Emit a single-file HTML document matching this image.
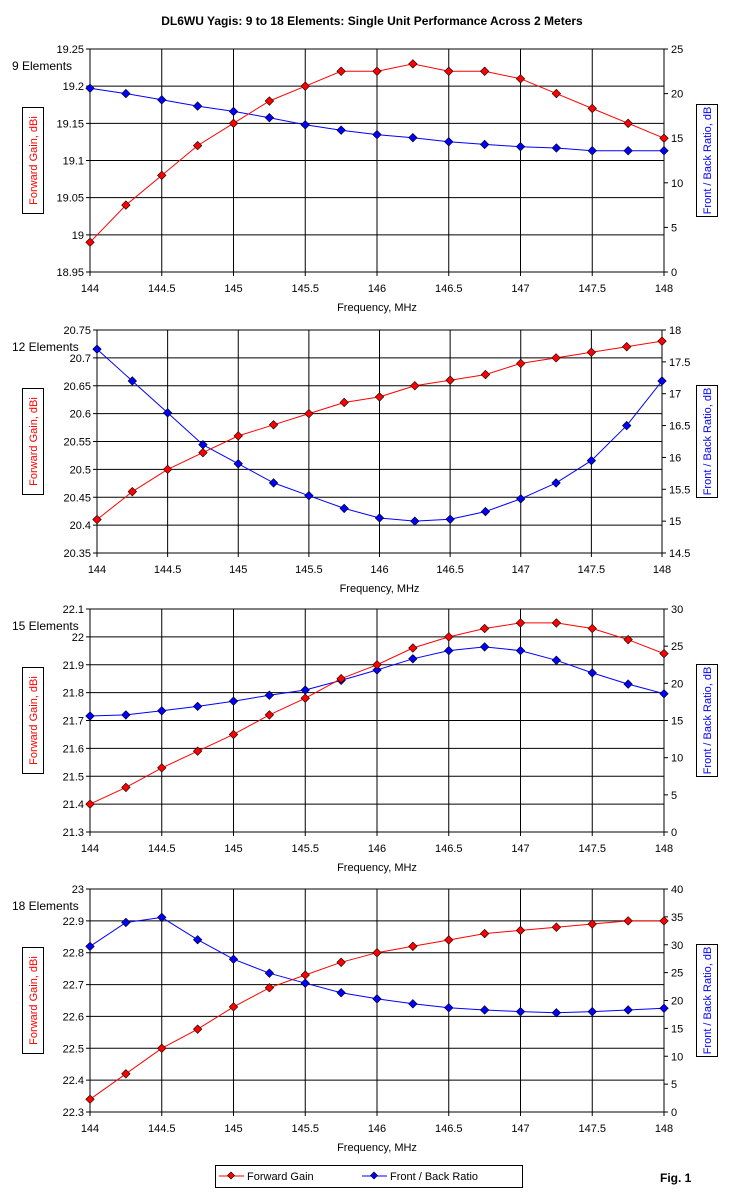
<!DOCTYPE html>
<html><head><meta charset="utf-8"><style>
html,body{margin:0;padding:0;background:#fff}
svg{display:block;font-family:"Liberation Sans",Arial,sans-serif}
</style></head><body>
<svg id="s" width="744" height="1200" xmlns="http://www.w3.org/2000/svg"></svg>
<script>
var P=[
{t:49,b:272,l:90,r:664,lmin:18.95,lmax:19.25,lstep:0.05,rmin:0,rmax:25,rstep:5,name:"9 Elements",
g:[18.99,19.04,19.08,19.12,19.15,19.18,19.20,19.22,19.22,19.23,19.22,19.22,19.21,19.19,19.17,19.15,19.13],
f:[20.6,20.0,19.3,18.6,18.0,17.3,16.5,15.9,15.4,15.06,14.6,14.3,14.05,13.9,13.6,13.6,13.6]},
{t:330,b:553,l:97,r:662,lmin:20.35,lmax:20.75,lstep:0.05,rmin:14.5,rmax:18,rstep:0.5,name:"12 Elements",
g:[20.41,20.46,20.50,20.53,20.56,20.58,20.60,20.62,20.63,20.65,20.66,20.67,20.69,20.70,20.71,20.72,20.73],
f:[17.7,17.2,16.7,16.2,15.9,15.6,15.4,15.2,15.05,15.0,15.03,15.15,15.35,15.6,15.95,16.5,17.2]},
{t:609,b:832,l:90,r:664,lmin:21.3,lmax:22.1,lstep:0.1,rmin:0,rmax:30,rstep:5,name:"15 Elements",
g:[21.40,21.46,21.53,21.59,21.65,21.72,21.78,21.85,21.90,21.96,22.00,22.03,22.05,22.05,22.03,21.99,21.94],
f:[15.6,15.75,16.3,16.9,17.6,18.4,19.1,20.4,21.8,23.3,24.4,24.9,24.4,23.1,21.4,19.9,18.6]},
{t:889,b:1112,l:90,r:664,lmin:22.3,lmax:23,lstep:0.1,rmin:0,rmax:40,rstep:5,name:"18 Elements",
g:[22.34,22.42,22.50,22.56,22.63,22.69,22.73,22.77,22.80,22.82,22.84,22.86,22.87,22.88,22.89,22.90,22.90],
f:[29.7,34,34.9,30.9,27.4,24.9,23.1,21.4,20.3,19.4,18.7,18.3,18,17.8,18,18.3,18.6]}];
var h='<text x="372" y="25" text-anchor="middle" font-size="12" font-weight="bold">DL6WU Yagis: 9 to 18 Elements: Single Unit Performance Across 2 Meters</text>';
function fmt(v){return String(parseFloat(v.toFixed(3)));}
P.forEach(function(p){
 var W=p.r-p.l,H=p.b-p.t,n=Math.round((p.lmax-p.lmin)/p.lstep),m=Math.round((p.rmax-p.rmin)/p.rstep);
 for(var i=0;i<=n;i++){var y=p.b-H*i/n;
  h+='<line x1="'+(p.l-4)+'" x2="'+p.r+'" y1="'+y+'" y2="'+y+'" stroke="#000"/>';
  h+='<text x="'+(p.l-6)+'" y="'+(y+4)+'" text-anchor="end" font-size="11">'+fmt(p.lmin+p.lstep*i)+'</text>';}
 for(i=0;i<=m;i++){var y=p.b-H*i/m;
  h+='<line x1="'+p.r+'" x2="'+(p.r+4)+'" y1="'+y+'" y2="'+y+'" stroke="#000"/>';
  h+='<text x="'+(p.r+7)+'" y="'+(y+4)+'" font-size="11">'+fmt(p.rmin+p.rstep*i)+'</text>';}
 for(i=0;i<=8;i++){var x=p.l+W*i/8;
  h+='<line x1="'+x+'" x2="'+x+'" y1="'+p.t+'" y2="'+(p.b+4)+'" stroke="#000"/>';
  h+='<text x="'+x+'" y="'+(p.b+20)+'" text-anchor="middle" font-size="11">'+fmt(144+0.5*i)+'</text>';}
 h+='<text x="'+(p.l+W/2)+'" y="'+(p.b+39)+'" text-anchor="middle" font-size="11">Frequency, MHz</text>';
 h+='<text x="12" y="'+(p.t+21)+'" font-size="12">'+p.name+'</text>';
 var cy=(p.t+p.b)/2;
 h+='<rect x="22.5" y="'+(cy-53)+'" width="21" height="106" fill="#fff" stroke="#000"/>';
 h+='<text transform="translate(37,'+cy+') rotate(-90)" text-anchor="middle" font-size="11" fill="#f00">Forward Gain,  dBi</text>';
 h+='<rect x="696.5" y="'+(cy-56)+'" width="21" height="112" fill="#fff" stroke="#000"/>';
 h+='<text transform="translate(711,'+cy+') rotate(-90)" text-anchor="middle" font-size="11" fill="#00f">Front / Back Ratio,  dB</text>';
 function ser(arr,mn,mx,col){var pts=arr.map(function(v,k){return [p.l+W*k/16,p.b-H*(v-mn)/(mx-mn)];});
  var s='<polyline fill="none" stroke="'+col+'" stroke-width="1" points="'+pts.map(function(q){return q[0].toFixed(1)+','+q[1].toFixed(1)}).join(' ')+'"/>';
  pts.forEach(function(q){s+='<rect x="'+(q[0]-3)+'" y="'+(q[1]-3)+'" width="6" height="6" transform="rotate(45 '+q[0]+' '+q[1]+')" fill="'+col+'" stroke="#000" stroke-width="0.6"/>';});
  return s;}
 h+=ser(p.f,p.rmin,p.rmax,'#00f');
 h+=ser(p.g,p.lmin,p.lmax,'#f00');
});
h+='<rect x="215.5" y="1165.5" width="307" height="22" fill="#fff" stroke="#000"/>';
h+='<line x1="219" x2="244" y1="1176" y2="1176" stroke="#f00"/><rect x="228.5" y="1173" width="5" height="5" transform="rotate(45 231 1175.5)" fill="#f00" stroke="#000" stroke-width="0.6"/>';
h+='<text x="247" y="1180" font-size="11">Forward Gain</text>';
h+='<line x1="362" x2="387" y1="1176" y2="1176" stroke="#00f"/><rect x="371.5" y="1173" width="5" height="5" transform="rotate(45 374 1175.5)" fill="#00f" stroke="#000" stroke-width="0.6"/>';
h+='<text x="390" y="1180" font-size="11">Front / Back Ratio</text>';
h+='<text x="660" y="1182" font-size="12" font-weight="bold">Fig. 1</text>';
document.getElementById('s').innerHTML=h;
</script>
</body></html>
